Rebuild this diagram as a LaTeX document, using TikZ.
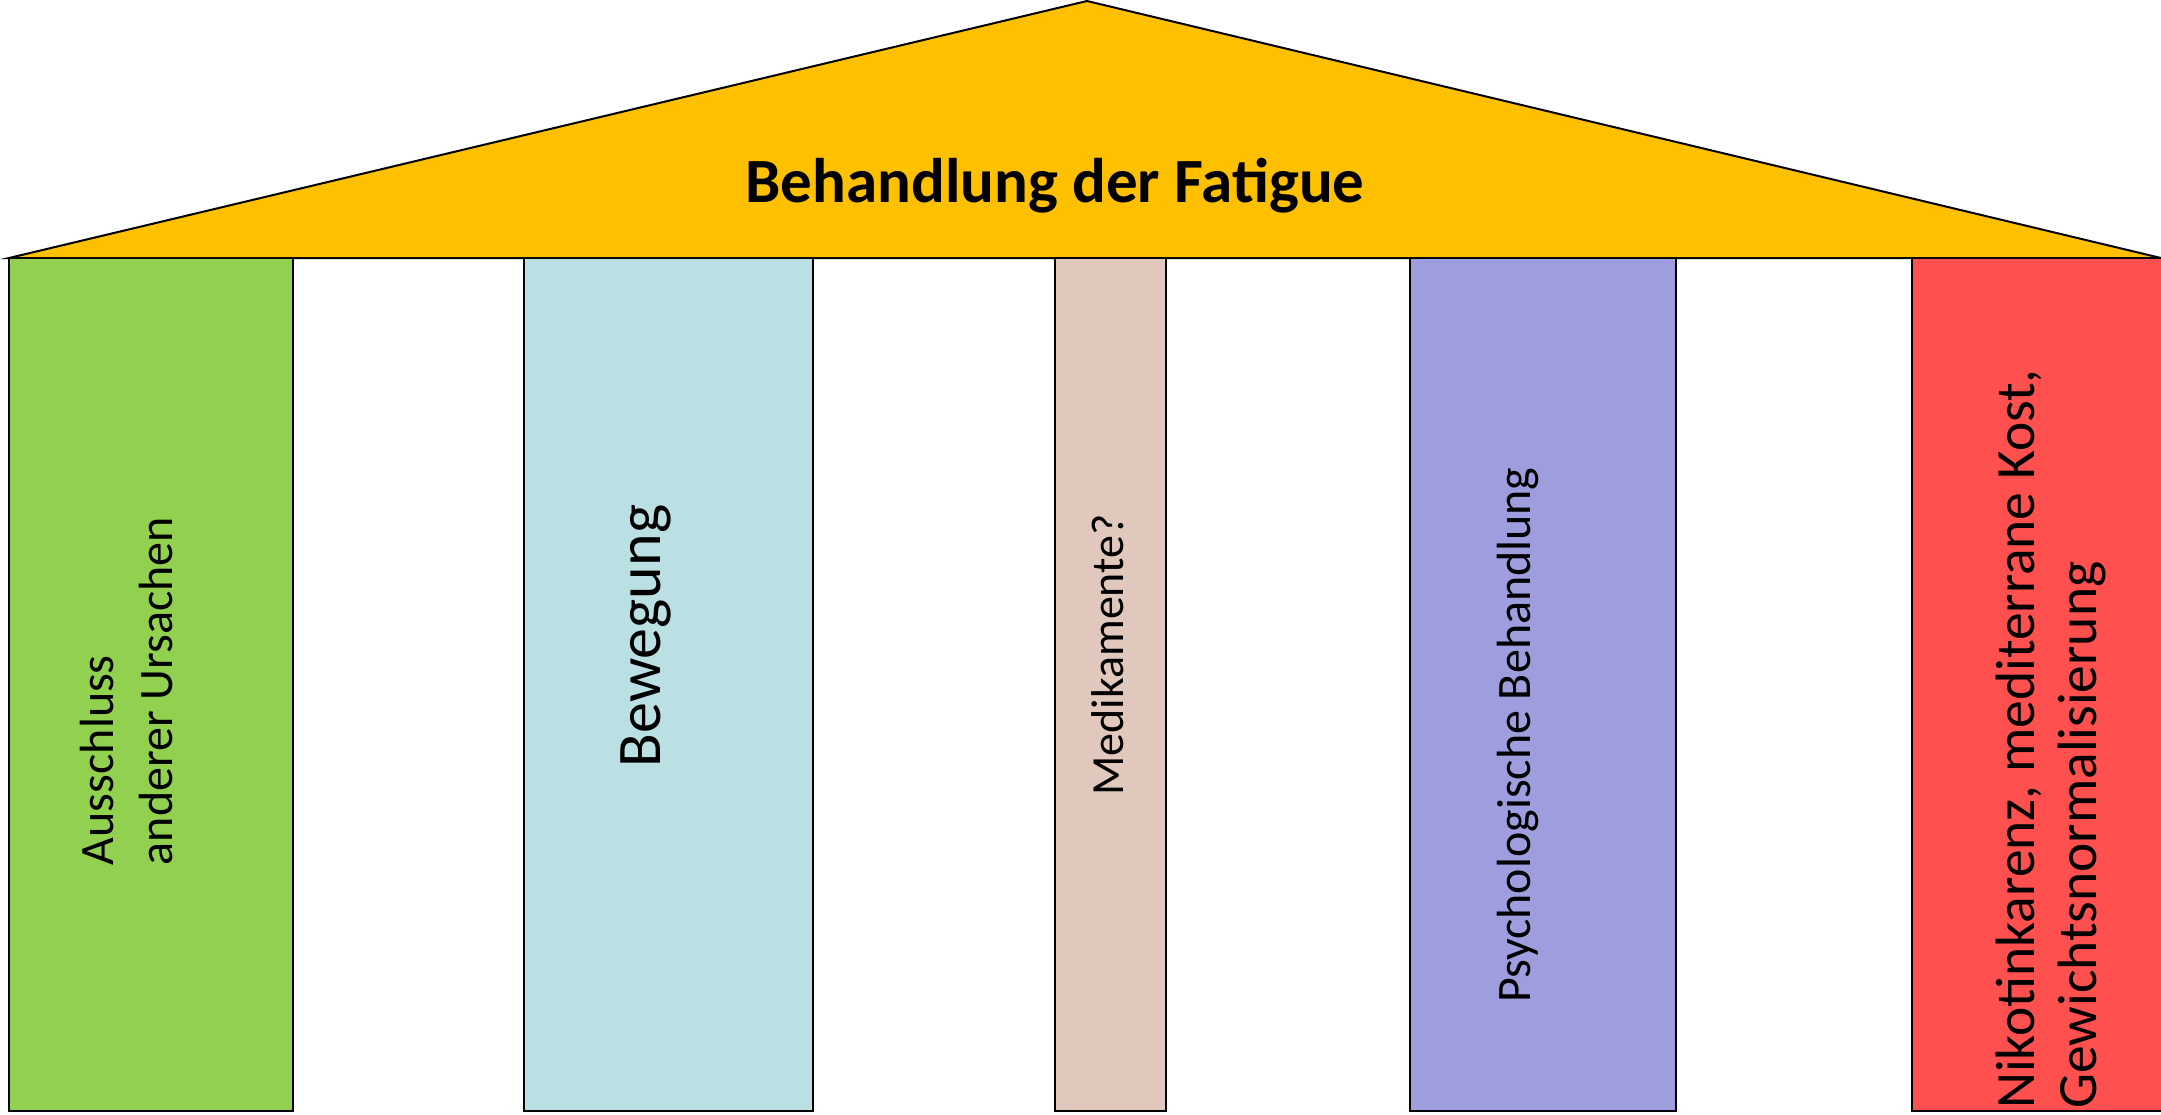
\documentclass[tikz,border=0pt]{standalone}
\usepackage{fontspec}
\setmainfont{Carlito}
\definecolor{roofc}{HTML}{FFC000}
\definecolor{greenc}{HTML}{92D050}
\definecolor{bluec}{HTML}{BBE0E3}
\definecolor{brownc}{HTML}{E1C8BC}
\definecolor{purplec}{HTML}{9E9EDE}
\definecolor{redc}{HTML}{FF5050}
\begin{document}
\begin{tikzpicture}[x=1pt,y=-1pt,
  outline/.style={draw=black, line width=2pt, line join=miter},
  pillar/.style={outline, anchor=north west, inner sep=0pt, outer sep=0pt, minimum height=853pt},
  vlabel/.style={rotate=90, inner sep=0pt, outer sep=0pt, text=black},
  small/.style={font=\fontsize{46}{58}\selectfont},
  mid/.style={font=\fontsize{48}{59}\selectfont},
  big/.style={font=\fontsize{62}{74}\selectfont},
  redtext/.style={font=\fontsize{55.5}{62}\selectfont}]
\clip (0,0) rectangle (2161,1114);
\fill[white] (0,0) rectangle (2161,1114);
% roof
\coordinate (rl) at (9,258);
\coordinate (apex) at (1087,1);
\coordinate (rr) at (2161,258);
\draw[outline, fill=roofc] (rl) -- (apex) -- (rr) -- cycle;
\node[anchor=base, inner sep=0pt, font=\fontsize{63}{75}\bfseries\selectfont] (title) at (1055,202) {Behandlung der Fatigue};
% pillars
\node[pillar, fill=greenc, minimum width=284pt] (p1) at (9,258) {};
\node[pillar, fill=bluec, minimum width=289pt] (p2) at (524,258) {};
\node[pillar, fill=brownc, minimum width=111pt] (p3) at (1055,258) {};
\node[pillar, fill=purplec, minimum width=266pt] (p4) at (1410,258) {};
\node[pillar, fill=redc, minimum width=260pt] (p5) at (1912,258) {};
% labels
\node[vlabel, mid, align=left] (t1) at (127,691) {Ausschluss\\anderer Ursachen};
\node[vlabel, big, anchor=base] (t2) at (660,636) {Bewegung};
\node[vlabel, small, anchor=base] (t3) at (1123,655) {Medikamente?};
\node[vlabel, mid, anchor=base] (t4) at (1530,735) {Psychologische Behandlung};
\node[vlabel, redtext, align=left] (t5) at (2051,739) {Nikotinkarenz, mediterrane Kost,\\Gewichtsnormalisierung};
\end{tikzpicture}
\end{document}
